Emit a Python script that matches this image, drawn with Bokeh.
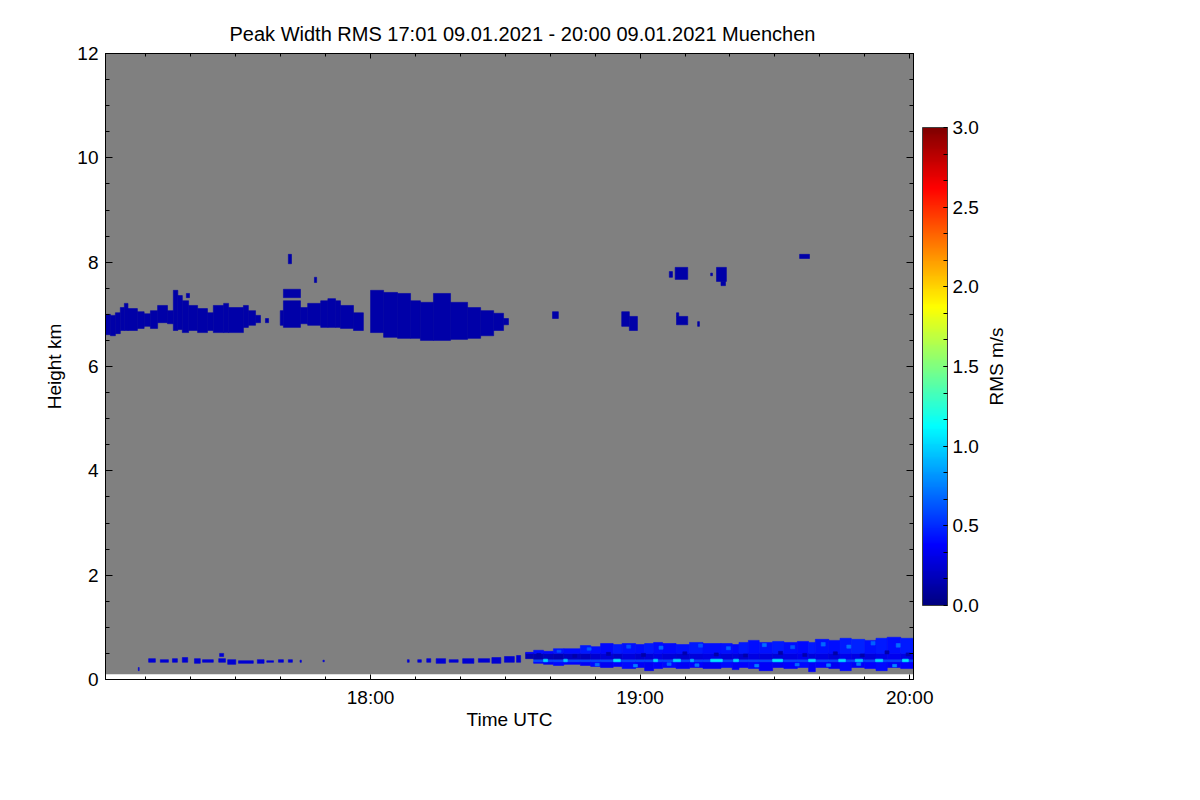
import numpy as np
from bokeh.plotting import figure
from bokeh.layouts import row
from bokeh.models import (Range1d, FixedTicker, LinearAxis, ColumnDataSource, ColorBar,
                          LinearColorMapper, PrintfTickFormatter)
from bokeh.transform import linear_cmap
from bokeh.embed import file_html
from bokeh.resources import INLINE

# ---------------- data (time in minutes after 17:00 UTC, height in km, RMS in m/s) ----------------
title_text = "Peak Width RMS   17:01 09.01.2021 - 20:00 09.01.2021 Muenchen"
colorbar_label = "RMS m/s"
time_start = 1.0
time_end = 180.85
lowest_gate_km = 0.1
max_height_km = 12.0

time_tick_minutes = [60, 120, 180]
time_tick_labels = ["18:00", "19:00", "20:00"]
time_minor_minutes = [10, 20, 30, 40, 50, 60, 70, 80, 90, 100, 110, 120, 130, 140, 150, 160, 170, 180]
height_ticks = [0, 2, 4, 6, 8, 10, 12]
height_minor = [0.5, 1, 1.5, 2, 2.5, 3, 3.5, 4, 4.5, 5, 5.5, 6, 6.5, 7, 7.5, 8, 8.5, 9, 9.5, 10, 10.5, 11, 11.5, 12]
rms_ticks = [0.0, 0.5, 1.0, 1.5, 2.0, 2.5, 3.0]
rms_minor = [0.1667, 0.3333, 0.5, 0.6667, 0.8333, 1.0, 1.1667, 1.3333, 1.5, 1.6667, 1.8333, 2.0,
             2.1667, 2.3333, 2.5, 2.6667, 2.8333]
rms_low, rms_high = 0.0, 3.0

# upper cloud layer (~6.5-8 km): segments
cloud_t0 = [1.0, 2.1, 3.2, 4.3, 5.2, 6.0, 8.1, 9.6, 11.0, 12.6, 14.8, 16.1, 17.1, 18.1, 19.5, 21.5,
            23.7, 25.0, 27.3, 28.4, 31.7, 32.8, 34.4, 36.6, 19.0,
            39.9, 40.6, 40.6, 44.4, 46.0, 48.9, 50.5, 52.2, 53.3, 56.2, 41.7, 47.5,
            60.0, 62.9, 66.0, 68.9, 71.1, 74.0, 77.8, 81.6, 84.5, 87.4, 89.6,
            100.5, 115.9, 117.6, 126.5, 127.8, 128.1, 128.1, 132.8, 135.7, 137.0, 138.0, 155.5]
cloud_t1 = [2.1, 3.2, 4.3, 5.2, 6.0, 8.1, 9.6, 11.0, 12.6, 14.8, 16.1, 17.1, 18.1, 19.5, 21.5, 23.7,
            25.0, 27.3, 28.4, 31.7, 32.8, 34.4, 35.5, 37.3, 19.7,
            40.6, 44.4, 44.4, 46.0, 48.9, 50.5, 52.2, 53.3, 56.2, 58.4, 42.4, 48.0,
            62.9, 66.0, 68.9, 71.1, 74.0, 77.8, 81.6, 84.5, 87.4, 89.6, 90.7,
            101.8, 117.6, 119.4, 127.2, 130.6, 130.6, 128.6, 133.2, 136.1, 139.2, 139.0, 157.7]
cloud_bottom = [6.61, 6.59, 6.63, 6.69, 6.69, 6.69, 6.73, 6.77, 6.73, 6.84, 6.82, 6.69, 6.71, 6.65, 6.69, 6.65,
                6.69, 6.65, 6.65, 6.65, 6.75, 6.79, 6.84, 6.84, 7.32,
                6.79, 6.75, 7.32, 6.82, 6.79, 6.75, 6.75, 6.75, 6.73, 6.69, 7.97, 7.61,
                6.65, 6.56, 6.54, 6.54, 6.50, 6.50, 6.52, 6.54, 6.59, 6.69, 6.80,
                6.92, 6.77, 6.69, 7.71, 7.67, 6.80, 6.96, 6.77, 7.74, 7.63, 7.55, 8.07]
cloud_top = [7.00, 6.98, 7.03, 7.13, 7.21, 7.11, 7.05, 7.01, 7.07, 7.17, 7.07, 7.46, 7.36, 7.26, 7.17, 7.11,
             7.03, 7.17, 7.21, 7.13, 7.17, 7.07, 6.98, 6.92, 7.40,
             7.07, 7.26, 7.48, 7.13, 7.21, 7.26, 7.30, 7.26, 7.17, 7.03, 8.15, 7.71,
             7.46, 7.42, 7.40, 7.26, 7.23, 7.40, 7.23, 7.13, 7.07, 7.02, 6.92,
             7.05, 7.05, 6.96, 7.82, 7.90, 6.96, 7.03, 6.86, 7.79, 7.90, 7.63, 8.15]
cloud_rms_value = 0.12

# sparse low echoes before the boundary-layer band
dots_t0 = [8.3, 10.6, 13.2, 15.9, 18.1, 20.8, 22.6, 26.2, 26.4, 28.2, 30.6, 34.8, 36.9, 39.5, 41.7, 44.3, 49.4,
           68.2, 70.5, 72.5, 74.6, 77.5, 80.5, 84.0, 87.0, 89.8, 92.5]
dots_t1 = [8.5, 12.1, 15.0, 17.0, 19.3, 22.1, 25.0, 27.7, 27.3, 30.0, 33.9, 36.3, 38.4, 40.6, 42.6, 44.6, 49.7,
           68.6, 71.3, 73.4, 76.7, 79.5, 83.0, 86.5, 89.0, 92.0, 93.4]
dots_bottom = [0.17, 0.33, 0.33, 0.33, 0.33, 0.31, 0.33, 0.33, 0.44, 0.29, 0.31, 0.31, 0.33, 0.33, 0.33, 0.33, 0.34,
               0.33, 0.33, 0.33, 0.31, 0.33, 0.31, 0.33, 0.31, 0.33, 0.33]
dots_top = [0.23, 0.40, 0.38, 0.40, 0.42, 0.40, 0.38, 0.40, 0.50, 0.38, 0.36, 0.38, 0.36, 0.38, 0.38, 0.37, 0.37,
            0.38, 0.38, 0.40, 0.40, 0.38, 0.40, 0.40, 0.42, 0.44, 0.46]
dots_rms_value = 0.25

# boundary-layer band
band_t0 = [94.5, 96.3, 98.5, 100.7, 103.0, 106.7, 109.0, 111.2, 114.0, 116.0, 119.0, 121.0, 123.0, 125.0,
           128.0, 131.0, 134.0, 138.0, 140.5, 142.0, 144.1, 146.5, 149.5, 152.0, 155.0, 157.5, 159.0,
           162.0, 164.5, 167.0, 170.0, 172.5, 175.0, 178.0]
band_t1 = [96.3, 98.5, 100.7, 103.0, 106.7, 109.0, 111.2, 114.0, 116.0, 119.0, 121.0, 123.0, 125.0, 128.0,
           131.0, 134.0, 138.0, 140.5, 142.0, 144.1, 146.5, 149.5, 152.0, 155.0, 157.5, 159.0, 162.0,
           164.5, 167.0, 170.0, 172.5, 175.0, 178.0, 180.85]
band_bottom = [0.40, 0.31, 0.29, 0.27, 0.29, 0.27, 0.25, 0.23, 0.25, 0.21, 0.23, 0.17, 0.21, 0.23,
               0.21, 0.23, 0.21, 0.23, 0.19, 0.23, 0.21, 0.17, 0.23, 0.21, 0.23, 0.15, 0.23,
               0.21, 0.17, 0.23, 0.21, 0.17, 0.23, 0.21]
band_top = [0.52, 0.56, 0.54, 0.59, 0.59, 0.65, 0.63, 0.69, 0.67, 0.69, 0.67, 0.69, 0.71, 0.69,
            0.67, 0.71, 0.69, 0.69, 0.67, 0.71, 0.75, 0.71, 0.73, 0.71, 0.73, 0.71, 0.77,
            0.75, 0.79, 0.77, 0.75, 0.79, 0.81, 0.79]
band_rms_low = [0.40, 0.38, 0.36, 0.40, 0.38, 0.36, 0.40, 0.35, 0.38, 0.40, 0.36, 0.35, 0.38, 0.40,
                0.36, 0.38, 0.35, 0.40, 0.36, 0.38, 0.40, 0.36, 0.35, 0.38, 0.40, 0.36, 0.38,
                0.35, 0.40, 0.36, 0.38, 0.40, 0.36, 0.38]
band_rms_mid = [0.16, 0.15, 0.18, 0.16, 0.20, 0.18, 0.24, 0.26, 0.22, 0.28, 0.24, 0.26, 0.30, 0.26,
                0.24, 0.28, 0.30, 0.26, 0.28, 0.24, 0.30, 0.28, 0.26, 0.30, 0.32, 0.28, 0.30,
                0.26, 0.32, 0.30, 0.28, 0.31, 0.33, 0.30]
band_rms_up = [0.38, 0.42, 0.40, 0.44, 0.42, 0.45, 0.42, 0.40, 0.45, 0.43, 0.42, 0.45, 0.42, 0.40,
               0.43, 0.45, 0.42, 0.43, 0.40, 0.45, 0.42, 0.43, 0.45, 0.42, 0.40, 0.45, 0.43,
               0.42, 0.45, 0.47, 0.43, 0.45, 0.42, 0.45]
band_line_bottom = 0.34
band_line_top = 0.39
band_mid_top = 0.50
band_line_rms = 0.58
cyan_t0 = [98.5, 103.0, 114.1, 123.0, 127.4, 131.2, 135.7, 140.8, 149.5, 157.5, 164.2, 167.9, 172.4, 178.4]
cyan_t1 = [99.4, 103.8, 115.6, 123.9, 129.0, 131.9, 138.3, 141.9, 151.7, 159.0, 165.7, 169.5, 174.0, 179.7]
cyan_rms = [1.00, 0.95, 1.05, 1.00, 1.00, 0.90, 1.05, 1.00, 1.05, 1.00, 1.00, 0.95, 1.00, 1.05]
# small patches inside the band (darker / lighter pixels)
patch_t0 = [97.0, 101.5, 105.0, 108.2, 112.5, 117.0, 120.3, 124.2, 129.5, 133.0, 136.5, 139.2, 143.0,
            147.2, 150.8, 153.5, 156.2, 160.3, 163.0, 166.0, 169.0, 171.4, 174.5, 177.0, 179.2,
            110.0, 118.5, 126.0, 132.2, 145.5, 154.5, 161.5, 168.2, 176.2]
patch_t1 = [97.9, 102.4, 105.9, 109.1, 113.4, 117.9, 121.2, 125.1, 130.4, 133.9, 137.4, 140.1, 143.9,
            148.1, 151.7, 154.4, 157.1, 161.2, 163.9, 166.9, 169.9, 172.3, 175.4, 177.9, 180.1,
            110.9, 119.4, 126.9, 133.1, 146.4, 155.4, 162.4, 169.1, 177.1]
patch_bottom = [0.44, 0.52, 0.42, 0.56, 0.46, 0.60, 0.44, 0.58, 0.47, 0.62, 0.45, 0.57, 0.43, 0.63,
                0.48, 0.59, 0.44, 0.64, 0.47, 0.60, 0.43, 0.66, 0.49, 0.62, 0.45,
                0.26, 0.24, 0.27, 0.25, 0.24, 0.26, 0.25, 0.27, 0.24]
patch_top = [0.50, 0.56, 0.48, 0.61, 0.52, 0.66, 0.50, 0.64, 0.53, 0.68, 0.51, 0.63, 0.49, 0.69,
             0.54, 0.65, 0.50, 0.71, 0.53, 0.66, 0.49, 0.73, 0.55, 0.69, 0.51,
             0.31, 0.29, 0.32, 0.30, 0.29, 0.31, 0.30, 0.32, 0.29]
patch_rms = [0.12, 0.60, 0.12, 0.65, 0.14, 0.62, 0.12, 0.68, 0.15, 0.62, 0.12, 0.66, 0.14, 0.70,
             0.12, 0.64, 0.13, 0.68, 0.12, 0.72, 0.14, 0.66, 0.12, 0.70, 0.15,
             0.70, 0.75, 0.68, 0.72, 0.75, 0.70, 0.74, 0.72, 0.78]

# ---------------- styling ----------------
FONT = "Liberation Sans"
FS = "19px"
GRAY = "#808080"


def jet_palette(n=256):
    cols = []
    for i in range(n):
        f = i / (n - 1)
        r = min(max(1.5 - abs(4 * f - 3), 0), 1)
        g = min(max(1.5 - abs(4 * f - 2), 0), 1)
        b = min(max(1.5 - abs(4 * f - 1), 0), 1)
        cols.append("#%02x%02x%02x" % (int(r * 255 + 0.5), int(g * 255 + 0.5), int(b * 255 + 0.5)))
    return cols


PALETTE = jet_palette()

# ---------------- build quads ----------------
L, R, B, T, V = [], [], [], [], []


def add(l, r, b, t, v):
    if t > b:
        L.append(l); R.append(r); B.append(b); T.append(t); V.append(v)


for i in range(len(cloud_t0)):
    add(cloud_t0[i], cloud_t1[i], cloud_bottom[i], cloud_top[i], cloud_rms_value)
for i in range(len(dots_t0)):
    add(dots_t0[i], dots_t1[i], dots_bottom[i], dots_top[i], dots_rms_value)
for i in range(len(band_t0)):
    b, t = band_bottom[i], band_top[i]
    add(band_t0[i], band_t1[i], b, min(t, band_line_bottom), band_rms_low[i])
    add(band_t0[i], band_t1[i], max(b, band_line_bottom), min(t, band_line_top), band_line_rms)
    add(band_t0[i], band_t1[i], max(b, band_line_top), min(t, band_mid_top), band_rms_mid[i])
    add(band_t0[i], band_t1[i], max(b, band_mid_top), t, band_rms_up[i])
for i in range(len(patch_t0)):
    add(patch_t0[i], patch_t1[i], patch_bottom[i], patch_top[i], patch_rms[i])
for i in range(len(cyan_t0)):
    add(cyan_t0[i], cyan_t1[i], band_line_bottom, band_line_top, cyan_rms[i])

src = ColumnDataSource(dict(left=L, right=R, bottom=B, top=T, rms=V))

# ---------------- main figure ----------------
p = figure(width=982, height=784, x_range=Range1d(time_start, time_end),
           y_range=Range1d(0, max_height_km), output_backend="svg", toolbar_location=None,
           min_border_left=105, min_border_right=69, min_border_top=53, min_border_bottom=105)
p.grid.visible = False
p.outline_line_color = "black"
p.background_fill_color = "white"
p.border_fill_color = "white"

p.title.text = title_text
p.title.align = "left"
p.title.offset = 124
p.title.text_font = FONT
p.title.text_font_size = "20px"
p.title.text_font_style = "normal"
p.title.text_color = "black"
p.title.standoff = 17

p.quad(left=[time_start], right=[time_end], bottom=[lowest_gate_km], top=[max_height_km],
       fill_color=GRAY, line_color=None)
cmap = linear_cmap("rms", PALETTE, rms_low, rms_high)
p.quad(left="left", right="right", bottom="bottom", top="top", source=src,
       fill_color=cmap, line_color=cmap, line_width=0.6)


def style_axis(ax, major_in, minor_in):
    ax.major_tick_in = major_in
    ax.major_tick_out = 0
    ax.minor_tick_in = minor_in
    ax.minor_tick_out = 0
    ax.axis_line_color = "black"
    ax.major_tick_line_color = "black"
    ax.minor_tick_line_color = "black"
    ax.major_label_text_font = FONT
    ax.major_label_text_font_size = FS
    ax.major_label_text_color = "black"
    ax.axis_label_text_font = FONT
    ax.axis_label_text_font_size = FS
    ax.axis_label_text_font_style = "normal"
    ax.axis_label_text_color = "black"


xb = p.xaxis[0]
xb.ticker = FixedTicker(ticks=time_tick_minutes, minor_ticks=time_minor_minutes)
xb.major_label_overrides = dict(zip(time_tick_minutes, time_tick_labels))
xb.axis_label = "Time UTC"
style_axis(xb, 5, 3)
xb.major_label_standoff = 7
xb.axis_label_standoff = -2

yl = p.yaxis[0]
yl.ticker = FixedTicker(ticks=height_ticks, minor_ticks=height_minor)
yl.axis_label = "Height km"
style_axis(yl, 7, 4)
yl.major_label_standoff = 7
yl.axis_label_standoff = 9

xt = LinearAxis(ticker=FixedTicker(ticks=time_tick_minutes, minor_ticks=time_minor_minutes),
                major_label_overrides={t: "" for t in time_tick_minutes})
style_axis(xt, 5, 3)
xt.major_label_standoff = 0
p.add_layout(xt, "above")
yr = LinearAxis(ticker=FixedTicker(ticks=height_ticks, minor_ticks=height_minor),
                major_label_overrides={t: "" for t in height_ticks})
style_axis(yr, 7, 4)
yr.major_label_standoff = 0
p.add_layout(yr, "right")

# invisible spacer between the frame and the colour bar (9 px of outward tick extent)
spacer = LinearAxis(ticker=FixedTicker(ticks=[6]), major_label_overrides={6: ""})
spacer.major_tick_out = 9
spacer.major_tick_in = 0
spacer.minor_tick_out = 0
spacer.minor_tick_in = 0
spacer.major_tick_line_color = None
spacer.minor_tick_line_color = None
spacer.axis_line_color = None
spacer.major_label_standoff = 0
p.add_layout(spacer, "right")

# colour bar
mapper = LinearColorMapper(palette=PALETTE, low=rms_low, high=rms_high)
cbar = ColorBar(color_mapper=mapper, location="center_left", width=25, height=478,
                margin=0, padding=0, label_standoff=5,
                ticker=FixedTicker(ticks=rms_ticks, minor_ticks=rms_minor),
                formatter=PrintfTickFormatter(format="%.1f"),
                major_label_text_font=FONT, major_label_text_font_size=FS,
                major_label_text_color="black",
                major_tick_in=4, major_tick_out=0, minor_tick_in=4, minor_tick_out=0,
                major_tick_line_color="black", minor_tick_line_color="black",
                bar_line_color="#404040", border_line_color=None, background_fill_color=None)
p.add_layout(cbar, "right")

# ---------------- label strip for the colour bar title ----------------
lf = figure(width=202, height=784, output_backend="svg", toolbar_location=None,
            x_range=Range1d(0, 1), y_range=Range1d(0, 1),
            x_axis_location=None, y_axis_location="left",
            min_border_left=15, min_border_right=0, min_border_top=53, min_border_bottom=105)
lf.grid.visible = False
lf.outline_line_color = None
lf.background_fill_color = "white"
lf.border_fill_color = "white"
la = lf.yaxis[0]
la.ticker = FixedTicker(ticks=[0.5])
la.major_label_overrides = {0.5: ""}
la.axis_label = colorbar_label
style_axis(la, 0, 0)
la.major_tick_line_color = None
la.minor_tick_line_color = None
la.axis_line_color = None
la.major_label_standoff = 0
la.axis_label_standoff = 0

layout = row(p, lf)
open("out.html", "w").write(file_html(layout, INLINE))
